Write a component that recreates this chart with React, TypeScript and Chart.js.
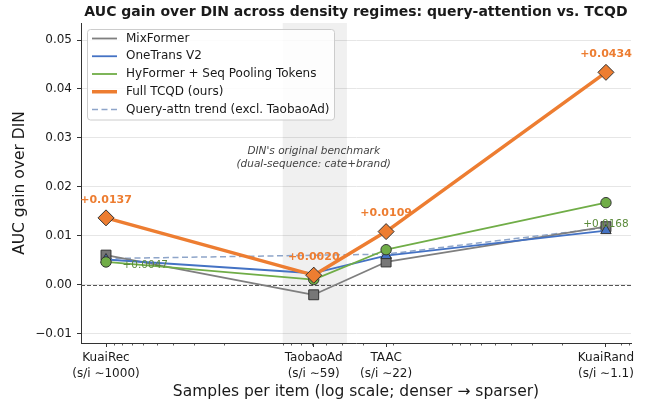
import React, { useEffect, useRef } from 'react';
import { Chart, registerables } from 'chart.js';

Chart.register(...registerables);

// ---------------- data ----------------
const categories = ['KuaiRec', 'TaobaoAd', 'TAAC', 'KuaiRand'];
const samplesPerItem = [1000, 59, 22, 1.1];
const samplesText = ['∼1000', '∼59', '∼22', '∼1.1'];

const mixFormer = [0.0061, -0.0020, 0.0047, 0.0119];
const oneTransV2 = [0.0052, 0.0024, 0.0060, 0.0111];
const hyFormer = [0.0047, 0.0011, 0.0072, 0.0168];
const fullTCQD = [0.0137, 0.0020, 0.0109, 0.0434];
const queryAttnTrend = [0.0054, null, 0.0063, 0.0117];

const yTicks = [-0.01, 0, 0.01, 0.02, 0.03, 0.04, 0.05];
const yRange = [-0.01184, 0.05347];
const xRange = [0.782, 1406];
const benchmarkBand = [37.5, 90];
const hyFormerLabelIdx = [0, 3];

const TITLE = 'AUC gain over DIN across density regimes: query-attention vs. TCQD';
const NOTE_LINES = ["DIN's original benchmark", '(dual-sequence: cate+brand)'];

// ---------------- styles ----------------
const FONT = "'DejaVu Sans', 'Liberation Sans', sans-serif";
const GRAY = '#7f7f7f';
const BLUE = '#4472c4';
const GREEN = '#70ad47';
const ORANGE = '#ed7d31';
const TREND = '#8ea5c9';
const EDGE = '#333333';
const TEXT = '#1a1a1a';
const GREEN_TEXT = '#5a8a3a';

Chart.defaults.font.family = FONT;

const pts = (vals: (number | null)[]) => samplesPerItem.map((x, i) => ({ x, y: vals[i] }));
const fmtGain = (v: number) => (v >= 0 ? '+' : '−') + Math.abs(v).toFixed(4);

const decorPlugin = {
  id: 'decor',
  beforeDatasetsDraw(chart: any) {
    const { ctx, chartArea: a, scales } = chart;
    const x = scales.x, y = scales.y;
    ctx.save();
    // shaded band
    const xa = x.getPixelForValue(benchmarkBand[0]);
    const xb = x.getPixelForValue(benchmarkBand[1]);
    ctx.fillStyle = 'rgba(0,0,0,0.06)';
    ctx.fillRect(Math.min(xa, xb), a.top, Math.abs(xb - xa), a.bottom - a.top);
    // zero reference line
    const y0 = Math.round(y.getPixelForValue(0)) + 0.5;
    ctx.strokeStyle = '#555';
    ctx.lineWidth = 1;
    ctx.setLineDash([4, 2]);
    ctx.beginPath();
    ctx.moveTo(a.left, y0);
    ctx.lineTo(a.right, y0);
    ctx.stroke();
    ctx.setLineDash([]);
    // minor log ticks
    ctx.strokeStyle = EDGE;
    ctx.lineWidth = 0.8;
    for (let e = -1; e <= 3; e++) {
      for (let m = 2; m <= 9; m++) {
        const v = m * Math.pow(10, e);
        if (v < xRange[0] || v > xRange[1]) continue;
        const px = Math.round(x.getPixelForValue(v)) + 0.5;
        ctx.beginPath();
        ctx.moveTo(px, a.bottom);
        ctx.lineTo(px, a.bottom + 2.5);
        ctx.stroke();
      }
    }
    ctx.restore();
  },
  afterDatasetsDraw(chart: any) {
    const { ctx, scales } = chart;
    const x = scales.x, y = scales.y;
    ctx.save();
    ctx.textBaseline = 'middle';
    // TCQD labels
    ctx.font = `bold 11px ${FONT}`;
    ctx.fillStyle = ORANGE;
    ctx.textAlign = 'center';
    fullTCQD.forEach((v, i) => {
      ctx.fillText(fmtGain(v), x.getPixelForValue(samplesPerItem[i]), y.getPixelForValue(v) - 18);
    });
    // HyFormer labels
    ctx.font = `10.5px ${FONT}`;
    ctx.fillStyle = GREEN_TEXT;
    hyFormerLabelIdx.forEach((i, k) => {
      const px = x.getPixelForValue(samplesPerItem[i]);
      const py = y.getPixelForValue(hyFormer[i]);
      if (k === 0) {
        ctx.textAlign = 'left';
        ctx.fillText(fmtGain(hyFormer[i]), px + 16.5, py + 3);
      } else {
        ctx.textAlign = 'center';
        ctx.fillText(fmtGain(hyFormer[i]), px, py + 22);
      }
    });
    // benchmark note
    ctx.font = `italic 10.5px ${FONT}`;
    ctx.fillStyle = '#444';
    ctx.textAlign = 'center';
    const nx = x.getPixelForValue(samplesPerItem[1]);
    const ny = y.getPixelForValue(0.026);
    ctx.fillText(NOTE_LINES[0], nx, ny - 6);
    ctx.fillText(NOTE_LINES[1], nx, ny + 6.5);
    ctx.restore();
  },
  afterDraw(chart: any) {
    const { ctx, chartArea: a } = chart;
    ctx.save();
    // title
    ctx.font = `bold 14px ${FONT}`;
    ctx.fillStyle = TEXT;
    ctx.textAlign = 'center';
    ctx.textBaseline = 'middle';
    ctx.fillText(TITLE, (a.left + a.right) / 2, 12);
    // legend
    const lx = a.left + 6.5, ly = a.top + 6.5, lw = 247, lh = 90.5, r = 3;
    ctx.beginPath();
    ctx.moveTo(lx + r, ly);
    ctx.lineTo(lx + lw - r, ly);
    ctx.arcTo(lx + lw, ly, lx + lw, ly + r, r);
    ctx.lineTo(lx + lw, ly + lh - r);
    ctx.arcTo(lx + lw, ly + lh, lx + lw - r, ly + lh, r);
    ctx.lineTo(lx + r, ly + lh);
    ctx.arcTo(lx, ly + lh, lx, ly + lh - r, r);
    ctx.lineTo(lx, ly + r);
    ctx.arcTo(lx, ly, lx + r, ly, r);
    ctx.closePath();
    ctx.fillStyle = 'rgba(255,255,255,0.85)';
    ctx.fill();
    ctx.strokeStyle = '#cccccc';
    ctx.lineWidth = 1;
    ctx.stroke();
    ctx.font = `12px ${FONT}`;
    ctx.textAlign = 'left';
    chart.data.datasets.forEach((ds: any, i: number) => {
      const yy = ly + 9 + i * 17.75;
      ctx.strokeStyle = ds.borderColor;
      ctx.lineWidth = ds.borderWidth;
      ctx.setLineDash(ds.borderDash || []);
      ctx.beginPath();
      ctx.moveTo(lx + 4.5, yy);
      ctx.lineTo(lx + 29.5, yy);
      ctx.stroke();
      ctx.setLineDash([]);
      ctx.fillStyle = TEXT;
      ctx.fillText(ds.label, lx + 38.5, yy);
    });
    ctx.restore();
  },
};

export default function App() {
  const ref = useRef<HTMLCanvasElement>(null);
  useEffect(() => {
    document.body.style.margin = '0';
    const common = { pointBorderColor: EDGE, pointBorderWidth: 1, borderJoinStyle: 'round', tension: 0 };
    const chart = new Chart(ref.current as HTMLCanvasElement, {
      type: 'line',
      data: {
        datasets: [
          {
            ...common, label: 'MixFormer', data: pts(mixFormer), borderColor: GRAY, borderWidth: 1.8,
            pointStyle: 'rect', pointRadius: 7, pointBackgroundColor: '#777777', order: 3,
          },
          {
            ...common, label: 'OneTrans V2', data: pts(oneTransV2), borderColor: BLUE, borderWidth: 1.8,
            pointStyle: 'triangle', pointRadius: 6, pointBackgroundColor: BLUE, order: 2,
          },
          {
            ...common, label: 'HyFormer + Seq Pooling Tokens', data: pts(hyFormer), borderColor: GREEN, borderWidth: 1.8,
            pointStyle: 'circle', pointRadius: 5.2, pointBackgroundColor: GREEN, order: 1,
          },
          {
            ...common, label: 'Full TCQD (ours)', data: pts(fullTCQD), borderColor: ORANGE, borderWidth: 3.5,
            pointStyle: 'rectRot', pointRadius: 8, pointBackgroundColor: ORANGE, order: 0,
          },
          {
            label: 'Query-attn trend (excl. TaobaoAd)', data: pts(queryAttnTrend), borderColor: TREND, borderWidth: 1.5,
            borderDash: [6, 3.5], pointRadius: 0, spanGaps: true, order: 4,
          },
        ] as any,
      },
      options: {
        responsive: false,
        animation: false,
        devicePixelRatio: 1,
        layout: { padding: { left: 0, right: 31, top: 23, bottom: 0 } },
        plugins: { legend: { display: false }, tooltip: { enabled: false }, title: { display: false } },
        scales: {
          x: {
            type: 'logarithmic',
            reverse: true,
            min: xRange[0],
            max: xRange[1],
            afterBuildTicks: (s: any) => { s.ticks = samplesPerItem.map((v) => ({ value: v })); },
            afterFit: (s: any) => { s.height = 64; },
            ticks: {
              autoSkip: false, maxRotation: 0, minRotation: 0, padding: 3, color: TEXT,
              font: { size: 12, lineHeight: 1.35 },
              callback: (v: any) => {
                const i = samplesPerItem.indexOf(Number(v));
                return i < 0 ? '' : [categories[i], `(s/i ${samplesText[i]})`];
              },
            },
            grid: { drawOnChartArea: false, drawTicks: true, tickLength: 4, tickColor: EDGE, tickWidth: 1 },
            border: { display: true, color: EDGE, width: 1 },
            title: {
              display: true, text: 'Samples per item (log scale; denser → sparser)', color: TEXT,
              font: { size: 15.5 }, padding: { top: 0, bottom: 5.7 },
            },
          },
          y: {
            type: 'linear',
            min: yRange[0],
            max: yRange[1],
            afterBuildTicks: (s: any) => { s.ticks = yTicks.map((v) => ({ value: v })); },
            afterFit: (s: any) => { s.width = 81; },
            ticks: {
              padding: 5, color: TEXT, font: { size: 12 },
              callback: (v: any) => { const n = Number(v); return (n < -1e-9 ? '−' : '') + Math.abs(n).toFixed(2); },
            },
            grid: { color: '#e6e6e6', lineWidth: 1, tickColor: EDGE, tickLength: 4, tickWidth: 1 },
            border: { display: true, color: EDGE, width: 1 },
            title: {
              display: true, text: 'AUC gain over DIN', color: TEXT,
              font: { size: 15.5 }, padding: { top: 10.7, bottom: 0 },
            },
          },
        },
      } as any,
      plugins: [decorPlugin],
    });
    return () => chart.destroy();
  }, []);
  return (
    <div style={{ position: 'absolute', left: 0, top: 0, width: 662, height: 407, background: '#ffffff' }}>
      <canvas ref={ref} width={662} height={407} style={{ width: 662, height: 407, display: 'block' }} />
    </div>
  );
}
